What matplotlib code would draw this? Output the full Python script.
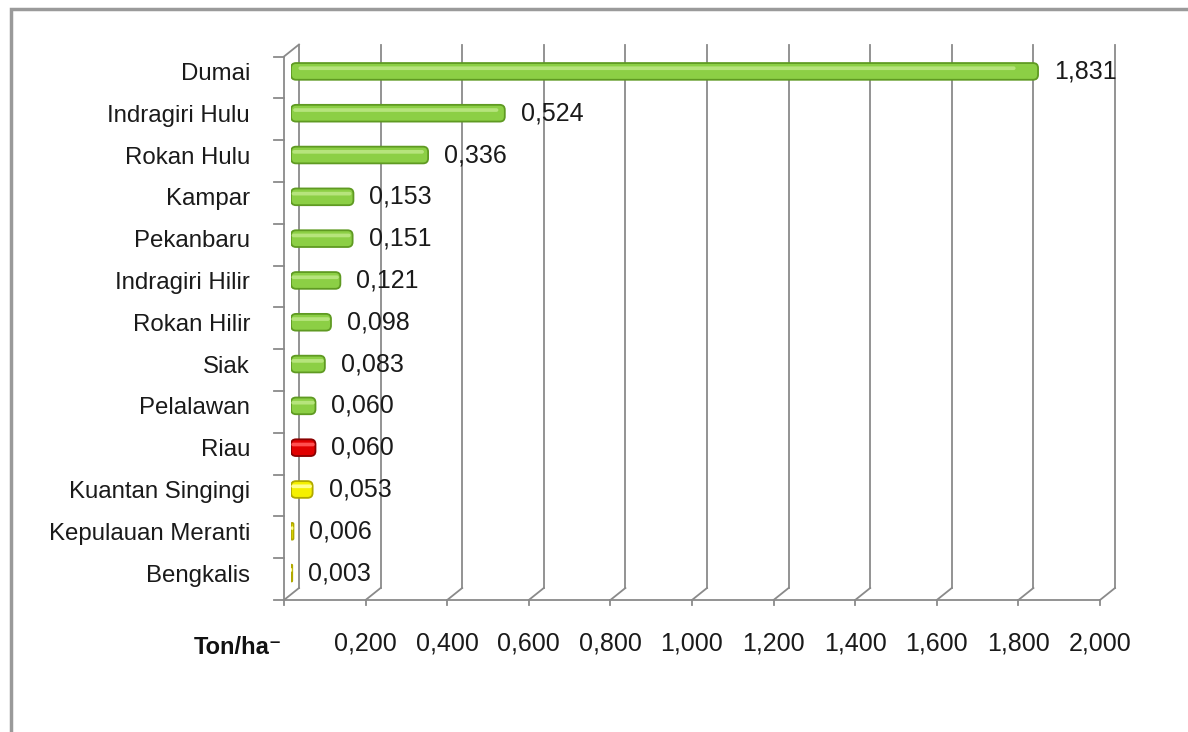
import numpy as np
import matplotlib.pyplot as plt
import matplotlib.transforms as mtransforms
from matplotlib.patches import Rectangle, FancyBboxPatch

plt.rcParams['font.family'] = ['Liberation Sans', 'DejaVu Sans']

# Data (Ton/ha)
regions = ['Dumai', 'Indragiri Hulu', 'Rokan Hulu', 'Kampar', 'Pekanbaru',
           'Indragiri Hilir', 'Rokan Hilir', 'Siak', 'Pelalawan', 'Riau',
           'Kuantan Singingi', 'Kepulauan Meranti', 'Bengkalis']
values = [1.831, 0.524, 0.336, 0.153, 0.151, 0.121, 0.098, 0.083, 0.060,
          0.060, 0.053, 0.006, 0.003]
groups = ['g'] * 9 + ['r'] + ['y'] * 3
x_ticks = [0, 0.2, 0.4, 0.6, 0.8, 1.0, 1.2, 1.4, 1.6, 1.8, 2.0]
x_labels = ['', '0,200', '0,400', '0,600', '0,800', '1,000', '1,200',
            '1,400', '1,600', '1,800', '2,000']

face = {'g': '#8ccf45', 'r': '#e00000', 'y': '#f5f000'}
edge = {'g': '#5f9a22', 'r': '#8a0000', 'y': '#b0a800'}
shine = {'g': '#b6e47c', 'r': '#ff5050', 'y': '#ffff90'}
txt = '#1a1a1a'

W, H = 1188, 732
fig = plt.figure(figsize=(W / 100, H / 100), dpi=100)

# bar plane (middle depth of the pseudo-3D box), in pixels
x0_px, x2_px = 291, 1107
top_px, bot_px = 50.5, 594
ax = fig.add_axes([x0_px / W, 1 - bot_px / H, (x2_px - x0_px) / W, (bot_px - top_px) / H])
n = len(regions)
ax.set_xlim(0, 2.0)
ax.set_ylim(n - 0.5, -0.5)
for s in ax.spines.values():
    s.set_visible(False)
ax.set_xticks([])
ax.set_yticks(range(n))
ax.set_yticklabels(regions, fontsize=17.3, color=txt)
ax.tick_params(axis='y', length=0, pad=29.5)


def shift(dx, dy):
    return ax.transData + mtransforms.ScaledTranslation(dx / 100, dy / 100, fig.dpi_scale_trans)


back = shift(8, 6)
front = shift(-7, -6)
ident = mtransforms.IdentityTransform()
gray = '#8a8a8a'
y_top, y_bot = -0.5, n - 0.5


def link(p, q, **kw):
    ax.plot([p[0], q[0]], [p[1], q[1]], transform=ident, clip_on=False, **kw)


# back wall gridlines + floor connectors + front ticks
for x in x_ticks:
    ax.plot([x, x], [y_top, y_bot], transform=back, color=gray, lw=1.3, clip_on=False)
    link(front.transform((x, y_bot)), back.transform((x, y_bot)), color=gray, lw=1.3)
    p = front.transform((x, y_bot))
    link(p, (p[0], p[1] - 5), color=gray, lw=1.3)

# left side wall
ax.plot([0, 0], [y_top, y_bot], transform=front, color=gray, lw=1.3, clip_on=False)
link(front.transform((0, y_top)), back.transform((0, y_top)), color=gray, lw=1.3)
for k in range(n + 1):
    p = front.transform((0, k - 0.5))
    link((p[0] - 10, p[1]), p, color=gray, lw=1.3)

# front axis line
ax.plot([0, 2.0], [y_bot, y_bot], transform=front, color=gray, lw=1.3, clip_on=False)

# bars: drawn by barh, then replaced by rounded boxes of the same geometry
ypos = np.arange(n)
bars = ax.barh(ypos, values, height=0.4)
px_x = (x2_px - x0_px) / 2.0          # pixels per x unit
px_y = (bot_px - top_px) / n          # pixels per category
aspect = px_x / px_y
for rect, g in zip(bars.patches, groups):
    bx, by, bw, bh = rect.get_x(), rect.get_y(), rect.get_width(), rect.get_height()
    r = min(5 / px_x, bw / 2)
    rect.set_visible(False)
    ax.add_patch(FancyBboxPatch((bx, by), bw, bh,
                                boxstyle=f'round,pad=0,rounding_size={r}',
                                mutation_aspect=aspect, fc=face[g], ec=edge[g],
                                lw=1.3, zorder=3))
    ax.add_patch(FancyBboxPatch((bx + bw * 0.01, by + bh * 0.2), bw * 0.96, bh * 0.22,
                                boxstyle=f'round,pad=0,rounding_size={min(2 / px_x, bw / 2)}',
                                mutation_aspect=aspect, fc=shine[g], lw=0, zorder=4))

for i, v in enumerate(values):
    ax.annotate(f'{v:.3f}'.replace('.', ','), (v, i), xytext=(11.5, 0),
                textcoords='offset points', ha='left', va='center',
                fontsize=18, color=txt)

# x tick labels under the front axis
for x, lab in zip(x_ticks, x_labels):
    ax.text(x, y_bot, lab, transform=shift(-7, -49), ha='center', va='center',
            fontsize=18, color=txt)

fig.text(238 / W, 1 - 648 / H, 'Ton/ha\u207b', ha='center', va='center',
         fontsize=17, fontweight='bold', color='#111111')

# outer frame
fig.add_artist(Rectangle((11 / W, -0.1), 1.2, 1 - 9 / H + 0.1, transform=fig.transFigure,
                         fill=False, ec='#9a9a9a', lw=2.5))

fig.savefig('out.png', dpi=100)
